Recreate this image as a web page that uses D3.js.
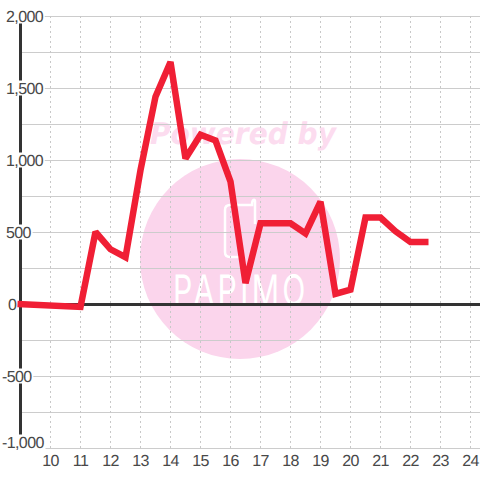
<!DOCTYPE html>
<html><head><meta charset="utf-8">
<script src="https://cdn.jsdelivr.net/npm/d3@7/dist/d3.min.js"></script>
<style>html,body{margin:0;padding:0;background:#fff}svg{display:block}text{font-family:"Liberation Sans",Arial,sans-serif;text-rendering:geometricPrecision}</style>
</head><body><svg id="c" width="480" height="480"></svg>
<script>
const hours=[8.9,11,11.5,12,12.5,13,13.5,14,14.5,15,15.5,16,16.5,17,17.5,18,18.5,19,19.5,20,20.5,21,21.5,22,22.6];
const values=[0,-20,500,380,325,930,1440,1680,1010,1175,1135,850,145,560,560,560,490,710,70,100,600,600,505,430,430];
const yMajor=[2000,1500,1000,500,0,-500,-1000];
const yGrid=[2000,1750,1500,1250,1000,750,500,250,0,-250,-500,-750,-1000];
const xTicks=[10,11,12,13,14,15,16,17,18,19,20,21,22,23,24];
const watermark="Powered by";
const brand="PAPIMO";

const svg=d3.select("#c");
const x=d3.scaleLinear().domain([10,24]).range([50,470]);
const y=d3.scaleLinear().domain([2000,-1000]).range([16,448]);

// watermark
svg.append("circle").attr("cx",240).attr("cy",259).attr("r",100).attr("fill","#fbd5ec");
svg.append("text").attr("x",150).attr("y",144).attr("textLength",186).attr("lengthAdjust","spacingAndGlyphs")
  .attr("font-size",30).attr("font-weight","bold").attr("font-style","italic")
  .style("font-family","'DejaVu Sans'").attr("fill","#fcdcef").text(watermark);
svg.append("path").attr("d","M255 224 L255 201 Q255 199.5 253.5 200 Q252 200.5 252 205 L230 205 Q225 205 225 210 L225 252 Q225 257 230 257 L244 257")
  .attr("fill","none").attr("stroke","#fff").attr("stroke-width",2.5);
svg.append("text").attr("x",173).attr("y",305)
  .attr("font-size",42).attr("font-weight",400).attr("transform","translate(173,0) scale(0.72,1) translate(-173,0)")
  .style("font-family","Inter").attr("fill","#fff").attr("textLength",184).attr("lengthAdjust","spacing").text(brand);

// grid
svg.append("g").attr("transform","translate(20,0)")
  .call(d3.axisRight(y).tickValues(yGrid).tickSize(460).tickFormat(""))
  .call(g=>g.select(".domain").remove())
  .call(g=>g.selectAll("line").attr("stroke","#ccc").attr("stroke-width",1));
svg.append("g").attr("transform","translate(0,16)")
  .call(d3.axisBottom(x).tickValues(xTicks).tickSize(432).tickFormat(""))
  .call(g=>g.select(".domain").remove())
  .call(g=>g.selectAll("line").attr("stroke","#c8c8c8").attr("stroke-width",1).attr("stroke-dasharray","2,3"));

// axis lines
svg.append("line").attr("x1",20.5).attr("x2",20.5).attr("y1",y(2000)).attr("y2",y(-1000)).attr("stroke","#333").attr("stroke-width",3);
svg.append("line").attr("x1",20).attr("x2",480).attr("y1",y(0)+0.5).attr("y2",y(0)+0.5).attr("stroke","#333").attr("stroke-width",3);

// y labels with opaque backing
const fmt=d=>d3.format(",")(d).replace("\u2212","-");
const labY=d=>d===-1000?y(d)-6:y(d);
const yl=svg.append("g").selectAll("g").data(yMajor).join("g");
yl.append("text").attr("x",d=>d<0?2:(d===0?8:6)).attr("y",d=>labY(d)+5.5).attr("text-anchor","start")
  .attr("font-size",16).attr("letter-spacing",-0.6).attr("fill","#484848").text(fmt);
yl.insert("rect","text").each(function(d){
  const b=this.parentNode.querySelector("text").getBBox();
  d3.select(this).attr("x",b.x-1).attr("y",labY(d)-7.5).attr("width",b.width+2).attr("height",15).attr("fill","#fff");
});

// x labels
svg.append("g").selectAll("text").data(xTicks).join("text")
  .attr("x",d=>x(d)+0.5).attr("y",466).attr("text-anchor","middle")
  .attr("font-size",16).attr("letter-spacing",-0.6).attr("fill","#484848").text(d=>d);

// series
const line=d3.line().x((d,i)=>x(hours[i])+0.5).y(d=>y(d)).curve(d3.curveLinear);
svg.append("path").datum(values).attr("d",line).attr("fill","none")
  .attr("stroke","#f01f35").attr("stroke-width",6.5).attr("stroke-linejoin","miter").attr("stroke-miterlimit",2);
</script></body></html>
